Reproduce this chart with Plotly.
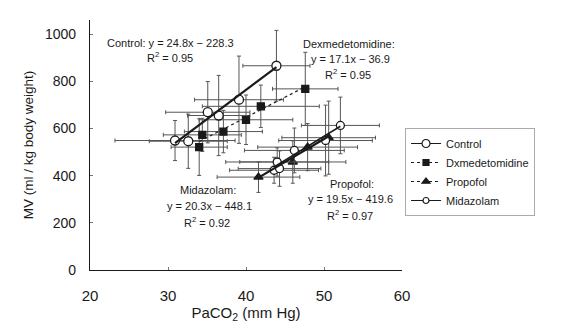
import plotly.graph_objects as go

# ---- data ----
ctrl_x = [30.9, 32.6, 35.1, 36.5, 39.1, 43.9]
ctrl_y = [549, 546, 669, 655, 722, 866]
ctrl_ex = [7.7, 5.0, 5.4, 4.0, 5.7, 4.3]
ctrl_ey = [85, 115, 130, 170, 185, 150]

dex_x = [34.0, 34.4, 37.1, 40.0, 41.9, 47.6]
dex_y = [521, 573, 587, 637, 694, 768]
dex_ex = [3.6, 5.0, 5.0, 6.0, 7.5, 4.2]
dex_ey = [120, 70, 90, 105, 90, 155]

prop_x = [41.6, 46.0, 47.9, 50.6]
prop_y = [394, 458, 521, 561]
prop_ex = [5.3, 6.8, 6.4, 6.0]
prop_ey = [65, 90, 100, 155]

mid_x = [43.6, 44.0, 44.3, 46.2, 50.2, 52.1]
mid_y = [423, 458, 430, 507, 549, 613]
mid_ex = [5.7, 6.6, 5.3, 6.4, 6.0, 5.0]
mid_ey = [55, 60, 75, 95, 150, 120]

# regression (slope, intercept) as printed on the chart
ctrl_fit = (24.8, -228.3)
dex_fit = (17.1, -36.9)
prop_fit = (19.5, -419.6)
mid_fit = (20.3, -448.1)

legend_names = ["Control", "Dxmedetomidine", "Propofol", "Midazolam"]

INK = "#1a1a1a"
EB = "#555555"
FONT = "Liberation Sans, Arial, sans-serif"

fig = go.Figure()

def fit_line(xs, fit, dash, width):
    x0, x1 = min(xs), max(xs)
    fig.add_trace(go.Scatter(
        x=[x0, x1], y=[fit[0] * x0 + fit[1], fit[0] * x1 + fit[1]],
        mode="lines", line=dict(color=INK, width=width, dash=dash),
        showlegend=False, hoverinfo="skip"))

def pts(xs, ys, ex, ey, symbol, fill, size):
    fig.add_trace(go.Scatter(
        x=xs, y=ys, mode="markers",
        marker=dict(symbol=symbol, size=size, color=fill,
                    line=dict(color=INK, width=1.3)),
        error_x=dict(type="data", array=ex, color=EB, thickness=1, width=2),
        error_y=dict(type="data", array=ey, color=EB, thickness=1, width=2),
        showlegend=False))

# error bars + points
pts(dex_x, dex_y, dex_ex, dex_ey, "square", INK, 7)
pts(prop_x, prop_y, prop_ex, prop_ey, "triangle-up", INK, 8)
pts(mid_x, mid_y, mid_ex, mid_ey, "circle", "white", 8)
pts(ctrl_x, ctrl_y, ctrl_ex, ctrl_ey, "circle", "white", 9)

fit_line(ctrl_x, ctrl_fit, "solid", 2.2)
fit_line(dex_x, dex_fit, "dot", 1.2)
fit_line(prop_x, prop_fit, "solid", 2.2)
fit_line(mid_x, mid_fit, "solid", 1.5)

# legend-only entries
leg_style = [
    ("circle", "white", 8, "solid"),
    ("square", INK, 6, "dot"),
    ("triangle-up", INK, 7, "dot"),
    ("circle", "white", 6, "solid"),
]
for name, (sym, fill, sz, dash) in zip(legend_names, leg_style):
    fig.add_trace(go.Scatter(
        x=[None], y=[None], mode="lines+markers", name=name,
        line=dict(color=INK, width=1, dash=dash),
        marker=dict(symbol=sym, size=sz, color=fill, line=dict(color=INK, width=1.2))))

ann_font = dict(family=FONT, size=11, color=INK)
annots = [
    (170, 43, "Control: y = 24.8x \u2212 228.3"),
    (170, 57, "R<sup>2</sup> = 0.95"),
    (349, 44, "Dexmedetomidine:"),
    (350, 59, "y = 17.1x \u2212 36.9"),
    (348, 74, "R<sup>2</sup> = 0.95"),
    (208, 190, "Midazolam:"),
    (209, 206, "y = 20.3x \u2212 448.1"),
    (207, 222, "R<sup>2</sup> = 0.92"),
    (352, 184, "Propofol:"),
    (350, 199, "y = 19.5x \u2212 419.6"),
    (350, 215, "R<sup>2</sup> = 0.97"),
]
L, T, W, H = 90, 20, 312, 250
for px, py, txt in annots:
    fig.add_annotation(x=(px - L) / W, y=(T + H - py) / H, xref="paper", yref="paper",
                       text=txt, showarrow=False, font=ann_font,
                       xanchor="center", yanchor="middle")

fig.update_layout(
    width=569, height=335,
    margin=dict(l=L, r=569 - L - W, t=T, b=335 - T - H),
    paper_bgcolor="white", plot_bgcolor="white",
    font=dict(family=FONT, size=14, color=INK),
    xaxis=dict(range=[20, 60], tickvals=[20, 30, 40, 50, 60],
               showline=True, linecolor=INK, linewidth=1.2,
               ticks="inside", ticklen=3, tickcolor="#777",
               showgrid=False, zeroline=False, ticklabelstandoff=12,
               tickfont=dict(size=15),
               title=dict(text="PaCO<sub>2</sub> (mm Hg)", standoff=4,
                          font=dict(size=15))),
    yaxis=dict(range=[0, 1060], tickvals=[0, 200, 400, 600, 800, 1000],
               showline=True, linecolor=INK, linewidth=1.2,
               ticks="inside", ticklen=3, tickcolor="#777",
               showgrid=False, zeroline=False, ticklabelstandoff=10,
               tickfont=dict(size=14),
               title=dict(text="MV (ml / kg body weight)", standoff=8,
                          font=dict(size=13.5))),
    legend=dict(x=(405 - L) / W, y=(T + H - 128) / H, xanchor="left", yanchor="top",
                bgcolor="white", bordercolor="#aaa", borderwidth=1,
                font=dict(family=FONT, size=11, color=INK),
                itemwidth=30, tracegroupgap=0),
)

fig.write_html("out.html")
